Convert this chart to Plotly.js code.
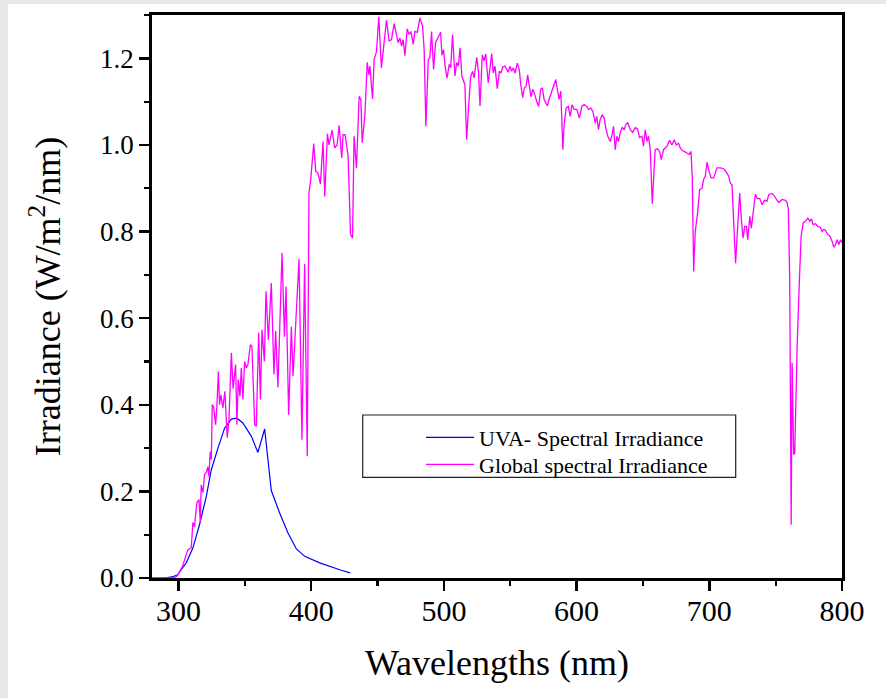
<!DOCTYPE html>
<html>
<head>
<meta charset="utf-8">
<script src="https://cdn.plot.ly/plotly-3.0.1.min.js"></script>
<style>html,body{margin:0;padding:0;background:#fff;}#chart{width:886px;height:698px;}</style>
</head>
<body>
<div id="chart"></div>
<script>
// UVA spectral irradiance (W/m2/nm)
var uvaWavelength = [280, 290, 295.7, 299.5, 302, 305.8, 310.8, 315.8, 320.9, 324.7, 329.7, 334.7, 339.8, 344, 348.5, 354.9, 359.8, 364.9, 369.9, 376.2, 382.5, 388.8, 395.1, 406.4, 421.5, 429.3];
var uvaIrradiance = [0, 0, 0.003, 0.008, 0.019, 0.035, 0.069, 0.123, 0.188, 0.25, 0.30, 0.346, 0.367, 0.369, 0.358, 0.327, 0.29, 0.344, 0.202, 0.15, 0.104, 0.067, 0.05, 0.035, 0.019, 0.012];

// Global spectral irradiance (W/m2/nm)
var globalWavelength = [280, 290, 297, 299, 303, 307, 309.6, 310.8, 312, 313.8, 315.4, 316.4, 317.1, 318.4, 319.6, 320.9, 322.1, 322.9, 323.9, 324.7, 325.4, 326.4, 327.9, 328.9, 330, 330.9, 331.9, 333.4, 334.9, 336.7, 338, 339.8, 341.1, 343, 344, 345, 346.3, 347.3, 348.5, 349.8, 351.1, 352.3, 354.1, 355.3, 356, 357.4, 358.6, 360.4, 361.7, 362.9, 364.7, 365.9, 367.7, 369.9, 371.9, 373.2, 374.9, 378, 379.8, 381, 383, 385, 386.3, 390.8, 393, 395, 397, 398.3, 399.6, 401.9, 403.4, 405.1, 406.9, 408.9, 410.2, 412.2, 413.4, 415.7, 417.7, 419.5, 421, 423, 424, 425.5, 427.8, 429.6, 431.1, 432.3, 434.1, 436.1, 437.4, 438.4, 440.4, 442.2, 443.4, 444.2, 446.2, 447.4, 449.2, 450.9, 452.9, 454.7, 456.7, 458.7, 460.5, 462.5, 464.3, 465.5, 466.8, 468.1, 469.3, 470.6, 472.3, 473.8, 475.1, 476.9, 478.1, 479.9, 481.9, 483.9, 485.1, 486.4, 488.2, 489.4, 490.7, 492.2, 493.7, 495.7, 497.5, 498.5, 499.7, 501, 502.3, 504, 505.1, 506.5, 508.3, 509.6, 510.8, 512.2, 513.5, 515.8, 517.1, 518.3, 520.1, 521.6, 522.8, 524.7, 526, 527.2, 528.9, 530.2, 531.5, 533.4, 534.7, 536, 537.2, 538.5, 540.2, 541.8, 543, 544.3, 546, 547.3, 548.5, 549.8, 551, 552.3, 553.6, 555.3, 556.8, 557.9, 559.4, 560.6, 561.9, 563.1, 564.4, 565.6, 566.9, 568.1, 569.9, 571.4, 572.9, 574.2, 575.5, 576.7, 578, 579.2, 580.8, 582.5, 584.3, 585.5, 586.8, 588.1, 589.6, 590.6, 592.1, 593.8, 595.1, 596.6, 598.1, 600.1, 602.1, 603.9, 605.7, 607.7, 608.9, 610.7, 612.2, 614, 615.2, 616.5, 617.7, 619.2, 620.8, 622, 623.5, 625.3, 626.5, 627.8, 629.1, 630.3, 631.6, 632.8, 634.4, 635.8, 637.1, 638.5, 640.4, 642.2, 644.2, 645.9, 647.4, 649.2, 650.4, 651.7, 653, 654.2, 655.5, 657, 658, 659.2, 661, 662.5, 663.8, 665.5, 668.1, 670.1, 671.8, 673.6, 675.1, 676.8, 678.1, 679.6, 681.1, 683.2, 684.9, 686.2, 687.2, 688.2, 689.4, 691.2, 692.7, 694.5, 695.7, 697, 698.3, 699.5, 701.3, 703.3, 705.8, 708.3, 710.8, 712.8, 714.6, 715.8, 717.1, 718.3, 719.8, 721.4, 722.9, 724.2, 725.4, 726.7, 728, 729, 730.5, 731.7, 733, 734.7, 736.2, 738, 739.8, 741.5, 743.5, 744.8, 747.3, 749.1, 750.6, 752.3, 754.9, 757.4, 758.6, 759.6, 760.6, 761.7, 762.4, 763.6, 764.4, 766.2, 767.9, 769.2, 770.7, 772.5, 774.2, 775.7, 777, 778.2, 780, 781.7, 783.7, 785, 786.3, 787.5, 789.3, 790.8, 792.6, 793.8, 795.1, 796.4, 797.6, 798.9, 800];
var globalIrradiance = [0, 0, 0, 0.005, 0.027, 0.065, 0.07, 0.128, 0.119, 0.174, 0.181, 0.128, 0.215, 0.197, 0.239, 0.243, 0.257, 0.234, 0.292, 0.273, 0.40, 0.396, 0.354, 0.396, 0.477, 0.40, 0.423, 0.393, 0.431, 0.324, 0.366, 0.52, 0.437, 0.493, 0.354, 0.458, 0.419, 0.485, 0.412, 0.50, 0.485, 0.493, 0.539, 0.535, 0.481, 0.354, 0.35, 0.566, 0.412, 0.573, 0.50, 0.662, 0.55, 0.681, 0.47, 0.57, 0.44, 0.751, 0.557, 0.673, 0.377, 0.58, 0.466, 0.737, 0.319, 0.725, 0.281, 0.889, 0.92, 1.003, 0.939, 0.935, 0.91, 1.008, 0.881, 1.026, 1.0, 1.034, 0.993, 1.0, 1.045, 0.97, 1.024, 1.024, 0.974, 0.793, 0.785, 1.02, 0.947, 1.112, 1.105, 1.005, 1.066, 1.191, 1.162, 1.182, 1.106, 1.197, 1.216, 1.296, 1.178, 1.236, 1.288, 1.24, 1.243, 1.28, 1.251, 1.236, 1.247, 1.228, 1.243, 1.206, 1.268, 1.255, 1.262, 1.232, 1.262, 1.26, 1.293, 1.274, 1.22, 1.043, 1.197, 1.201, 1.262, 1.174, 1.236, 1.247, 1.26, 1.207, 1.22, 1.18, 1.154, 1.186, 1.178, 1.255, 1.159, 1.19, 1.182, 1.224, 1.159, 1.139, 1.012, 1.074, 1.157, 1.17, 1.155, 1.202, 1.17, 1.09, 1.208, 1.194, 1.21, 1.143, 1.186, 1.211, 1.166, 1.182, 1.13, 1.17, 1.166, 1.18, 1.182, 1.174, 1.168, 1.182, 1.17, 1.178, 1.166, 1.189, 1.174, 1.139, 1.109, 1.132, 1.135, 1.162, 1.128, 1.111, 1.128, 1.12, 1.1, 1.089, 1.128, 1.132, 1.105, 1.097, 1.09, 1.105, 1.12, 1.139, 1.151, 1.128, 1.105, 1.124, 0.989, 1.047, 1.085, 1.089, 1.066, 1.093, 1.082, 1.082, 1.062, 1.089, 1.093, 1.089, 1.082, 1.085, 1.078, 1.051, 1.066, 1.035, 1.058, 1.07, 1.062, 1.039, 1.02, 1.008, 1.02, 1.043, 0.989, 1.02, 1.008, 1.028, 1.041, 1.035, 1.047, 1.052, 1.035, 1.029, 1.04, 1.037, 1.017, 1.02, 0.997, 1.035, 1.008, 1.02, 0.989, 0.864, 0.92, 0.989, 0.991, 0.985, 0.966, 0.989, 0.997, 1.011, 1.0, 1.012, 1.0, 1.004, 0.993, 0.987, 0.985, 0.981, 0.978, 0.985, 0.92, 0.708, 0.80, 0.843, 0.897, 0.90, 0.92, 0.928, 0.96, 0.943, 0.924, 0.924, 0.947, 0.947, 0.945, 0.937, 0.928, 0.912, 0.908, 0.827, 0.727, 0.812, 0.889, 0.827, 0.785, 0.812, 0.812, 0.781, 0.835, 0.808, 0.843, 0.886, 0.876, 0.876, 0.862, 0.872, 0.87, 0.885, 0.888, 0.882, 0.874, 0.867, 0.874, 0.872, 0.867, 0.851, 0.689, 0.123, 0.497, 0.285, 0.289, 0.535, 0.689, 0.789, 0.82, 0.824, 0.831, 0.824, 0.829, 0.816, 0.818, 0.812, 0.81, 0.80, 0.805, 0.803, 0.793, 0.79, 0.777, 0.764, 0.77, 0.781, 0.77, 0.781, 0.774];

var seriesNames = ['UVA- Spectral Irradiance', 'Global spectral Irradiance'];

var serif = 'Liberation Serif, Times New Roman, serif';
var W = 886, H = 698, L = 152, R = 44, T = 15, B = 120;
var pw = W - L - R, ph = H - T - B;
function px(x) { return (x - L) / pw; }
function py(y) { return (H - B - y) / ph; }

var traces = [
  {x: uvaWavelength, y: uvaIrradiance, type: 'scatter', mode: 'lines', name: seriesNames[0],
   legend: 'legend', line: {color: 'rgb(0,0,255)', width: 1.2}},
  {x: globalWavelength, y: globalIrradiance, type: 'scatter', mode: 'lines', name: seriesNames[1],
   legend: 'legend2', line: {color: 'rgb(255,0,255)', width: 1.3}}
];

var legendCommon = {xanchor: 'left', yanchor: 'top', bgcolor: 'rgba(0,0,0,0)', borderwidth: 0,
                    itemwidth: 48, font: {family: serif, size: 22, color: '#000'}};

var axisCommon = {
  showgrid: false, zeroline: false, showline: true, linecolor: '#000', linewidth: 2.8,
  mirror: true, ticks: 'outside', ticklen: 10, tickwidth: 2.4, tickcolor: '#000'
};

var layout = {
  width: W, height: H,
  margin: {l: L, r: R, t: T, b: B, pad: 0},
  paper_bgcolor: '#ffffff', plot_bgcolor: 'rgba(0,0,0,0)',
  showlegend: true,
  legend: Object.assign({}, legendCommon, {x: px(421), y: py(416.5)}),
  legend2: Object.assign({}, legendCommon, {x: px(421), y: py(443.5)}),
  xaxis: Object.assign({}, axisCommon, {
    range: [280, 800], tick0: 300, dtick: 100,
    tickfont: {family: serif, size: 30, color: '#000'},
    ticklabelstandoff: -6,
    minor: {dtick: 50, tick0: 300, ticks: 'outside', ticklen: 5, tickwidth: 2.2, tickcolor: '#000'},
    title: {text: 'Wavelengths (nm)', font: {family: serif, size: 36, color: '#000'}, standoff: 24}
  }),
  yaxis: Object.assign({}, axisCommon, {
    range: [0, 1.3], tick0: 0, dtick: 0.2, tickformat: '.1f',
    tickfont: {family: serif, size: 27, color: '#000'},
    minor: {dtick: 0.1, tick0: 0, ticks: 'outside', ticklen: 5, tickwidth: 2.2, tickcolor: '#000'},
    title: {text: 'Irradiance (W/m<sup>2</sup>/nm)', font: {family: serif, size: 36, color: '#000'}, standoff: 29}
  }),
  shapes: [
    {type: 'rect', xref: 'paper', yref: 'paper', x0: px(0), x1: px(8), y0: py(H), y1: py(0),
     fillcolor: '#e8e8e8', line: {width: 0}, layer: 'below'},
    {type: 'rect', xref: 'paper', yref: 'paper', x0: px(0), x1: px(W), y0: py(4), y1: py(0),
     fillcolor: '#e8e8e8', line: {width: 0}, layer: 'below'},
    {type: 'rect', xref: 'paper', yref: 'paper', x0: px(362.7), x1: px(735.7), y0: py(477.3), y1: py(415),
     fillcolor: 'rgba(0,0,0,0)', line: {color: '#222', width: 1.2}, layer: 'above'}
  ]
};

Plotly.newPlot('chart', traces, layout, {displayModeBar: false, staticPlot: true});
</script>
</body>
</html>
